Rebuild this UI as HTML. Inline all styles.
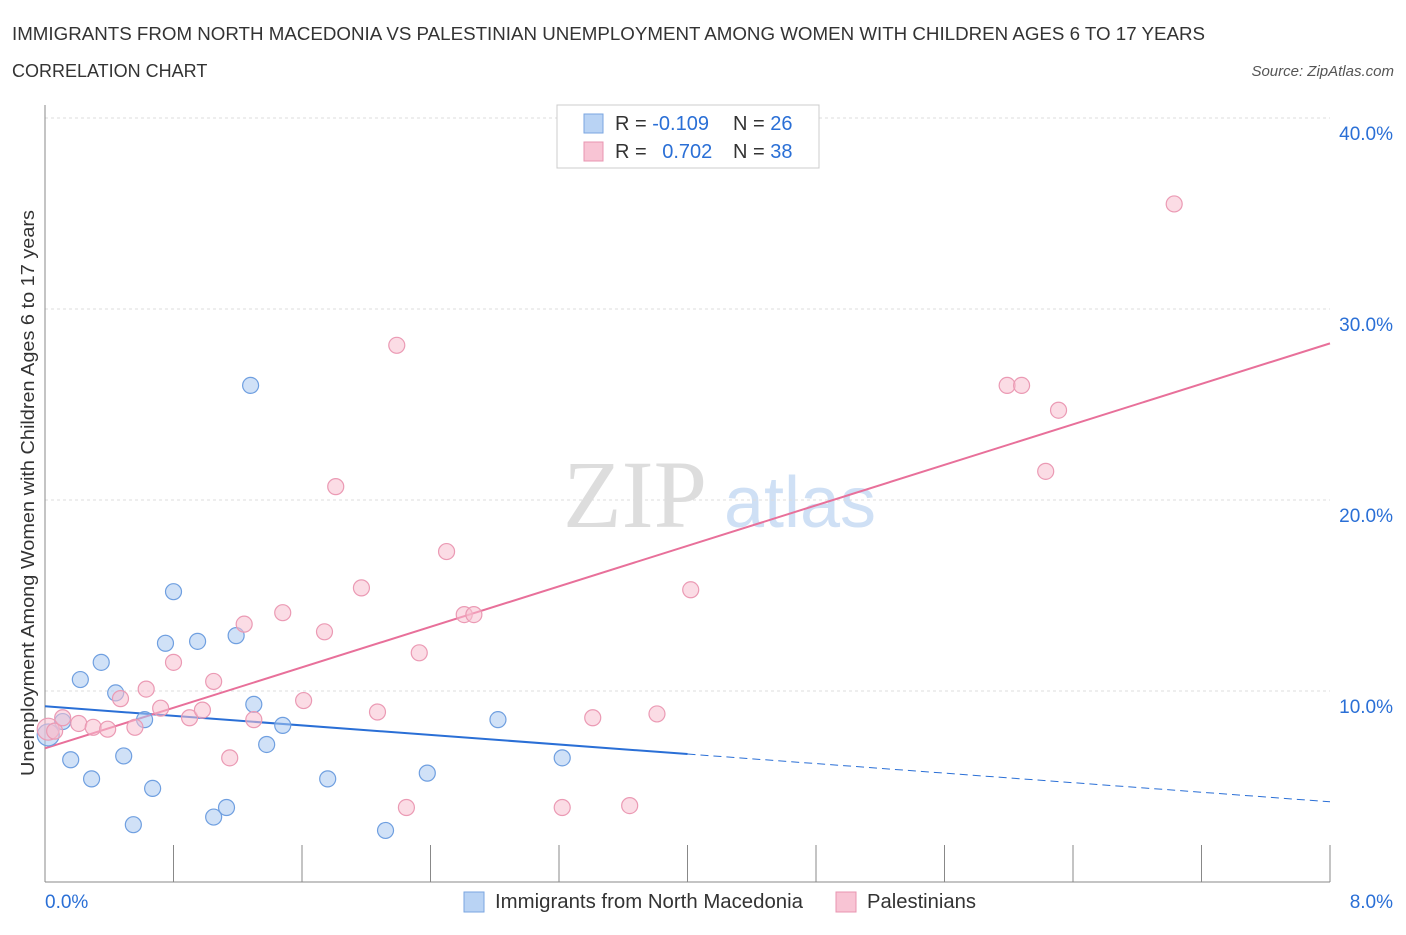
<!DOCTYPE html>
<html><head><meta charset="utf-8"><style>
body{margin:0;background:#fff;font-family:"Liberation Sans",sans-serif;}
svg text{font-family:"Liberation Sans",sans-serif;}
</style></head><body>
<svg width="1406" height="930" id="chart">
<text x="12" y="40" font-size="18" fill="#333" textLength="1193" lengthAdjust="spacingAndGlyphs">IMMIGRANTS FROM NORTH MACEDONIA VS PALESTINIAN UNEMPLOYMENT AMONG WOMEN WITH CHILDREN AGES 6 TO 17 YEARS</text>
<text x="12" y="77" font-size="18" fill="#333">CORRELATION CHART</text>
<text x="1394" y="76" font-size="15" fill="#555" font-style="italic" text-anchor="end">Source: ZipAtlas.com</text>
<text x="635" y="527" font-size="96" fill="#ddd" font-family="Liberation Serif" text-anchor="middle" style="font-family:'Liberation Serif',serif">ZIP</text>
<text x="800" y="527" font-size="72" fill="#cfe0f5" text-anchor="middle">atlas</text>
<text transform="translate(34,493) rotate(-90)" font-size="18" fill="#333" text-anchor="middle" textLength="566" lengthAdjust="spacingAndGlyphs">Unemployment Among Women with Children Ages 6 to 17 years</text>
<g id="grid"></g><g id="axes"></g><g id="lines"></g><g id="pts"></g>
<g>
<rect x="557" y="105" width="262" height="63" fill="#fff" stroke="#ccc"/>
<rect x="584" y="114" width="19" height="19" fill="#b9d3f4" stroke="#7aa6e0"/>
<rect x="584" y="142" width="19" height="19" fill="#f8c4d4" stroke="#e895b0"/>
<text x="615" y="130" font-size="20" fill="#333">R = <tspan fill="#2a6fd6">-0.109</tspan></text>
<text x="733" y="130" font-size="20" fill="#333">N = <tspan fill="#2a6fd6">26</tspan></text>
<text x="615" y="158" font-size="20" fill="#333">R = <tspan fill="#2a6fd6" dx="10">0.702</tspan></text>
<text x="733" y="158" font-size="20" fill="#333">N = <tspan fill="#2a6fd6">38</tspan></text>
</g>
<g>
<rect x="464" y="892" width="20" height="20" fill="#b9d3f4" stroke="#7aa6e0"/>
<text x="495" y="908" font-size="20" fill="#333" textLength="308" lengthAdjust="spacingAndGlyphs">Immigrants from North Macedonia</text>
<rect x="836" y="892" width="20" height="20" fill="#f8c4d4" stroke="#e895b0"/>
<text x="867" y="908" font-size="20" fill="#333" textLength="109" lengthAdjust="spacingAndGlyphs">Palestinians</text>
</g>
</svg>
<script>
const blueX=[0.02,0.11,0.16,0.22,0.29,0.35,0.44,0.49,0.55,0.62,0.67,0.75,0.80,0.95,1.05,1.13,1.19,1.28,1.30,1.38,1.48,1.76,2.12,2.38,2.82,3.22];
const blueY=[7.7,8.4,6.4,10.6,5.4,11.5,9.9,6.6,3.0,8.5,4.9,12.5,15.2,12.6,3.4,3.9,12.9,26.0,9.3,7.2,8.2,5.4,2.7,5.7,8.5,6.5];
const pinkX=[0.02,0.06,0.11,0.21,0.30,0.39,0.47,0.56,0.63,0.72,0.80,0.90,0.98,1.05,1.15,1.24,1.30,1.48,1.61,1.74,1.81,1.97,2.07,2.19,2.25,2.33,2.50,2.61,2.67,3.22,3.41,3.64,3.81,4.02,5.99,6.08,6.31,6.23,7.03];
const pinkY=[8.0,7.9,8.6,8.3,8.1,8.0,9.6,8.1,10.1,9.1,11.5,8.6,9.0,10.5,6.5,13.5,8.5,14.1,9.5,13.1,20.7,15.4,8.9,28.1,3.9,12.0,17.3,14.0,14.0,3.9,8.6,4.0,8.8,15.3,26.0,26.0,24.7,21.5,35.5];
const yTicks=[10,20,30,40];
const yTickLabels=["10.0%","20.0%","30.0%","40.0%"];
const blueTrend=[9.2,4.2]; // y at x=0, x=8
const pinkTrend=[7.0,28.2];
const blueSolidEnd=4.0;
const X=v=>45+v/8*1285, Y=v=>882-v*19.1;
const NS="http://www.w3.org/2000/svg";
function mk(tag,attrs,parent){const e=document.createElementNS(NS,tag);for(const k in attrs)e.setAttribute(k,attrs[k]);document.getElementById(parent).appendChild(e);return e;}
yTicks.forEach((t,i)=>{
 const g=mk('line',{x1:45,x2:1330,y1:Y(t),y2:Y(t),stroke:'#ddd','stroke-dasharray':'3,3'},'grid');
 
 
 const tx=mk('text',{x:1393,y:Y(t)+22,'font-size':19,fill:'#2a6fd6','text-anchor':'end'},'grid');
 tx.textContent=yTickLabels[i];
 
 
});
let a=mk('line',{x1:45,x2:45,y1:105,y2:882,stroke:'#888'},'axes');


a=mk('line',{x1:45,x2:1330,y1:882,y2:882,stroke:'#888'},'axes');


for(let i=0;i<=10;i++){const t=mk('line',{x1:X(i*0.8),x2:X(i*0.8),y1:845,y2:882,stroke:'#888'},'axes');
 
 }
let t0=mk('text',{x:45,y:908,'font-size':19,fill:'#2a6fd6'},'axes');t0.textContent='0.0%';


let t1=mk('text',{x:1393,y:908,'font-size':19,fill:'#2a6fd6','text-anchor':'end'},'axes');t1.textContent='8.0%';


function pts(xs,ys,fill,stroke,name){xs.forEach((x,i)=>{const c=mk('circle',{cx:X(x),cy:Y(ys[i]),r:(i==0?11:8),fill:fill,'fill-opacity':0.55,stroke:stroke,'stroke-width':1.2},'pts');
 
 });}
pts(blueX,blueY,'#a9c8f0','#6f9fe0','point-north-macedonia');
pts(pinkX,pinkY,'#f7bfd0','#eb9ab4','point-palestinians');
const bAt=x=>blueTrend[0]+(blueTrend[1]-blueTrend[0])*x/8;
let l=mk('line',{x1:X(0),y1:Y(bAt(0)),x2:X(blueSolidEnd),y2:Y(bAt(blueSolidEnd)),stroke:'#2a6fd6','stroke-width':2},'lines');


l=mk('line',{x1:X(blueSolidEnd),y1:Y(bAt(blueSolidEnd)),x2:X(8),y2:Y(bAt(8)),stroke:'#2a6fd6','stroke-width':1,'stroke-dasharray':'8,5'},'lines');


l=mk('line',{x1:X(0),y1:Y(pinkTrend[0]),x2:X(8),y2:Y(pinkTrend[1]),stroke:'#e8709a','stroke-width':2},'lines');


</script>
</body></html>
